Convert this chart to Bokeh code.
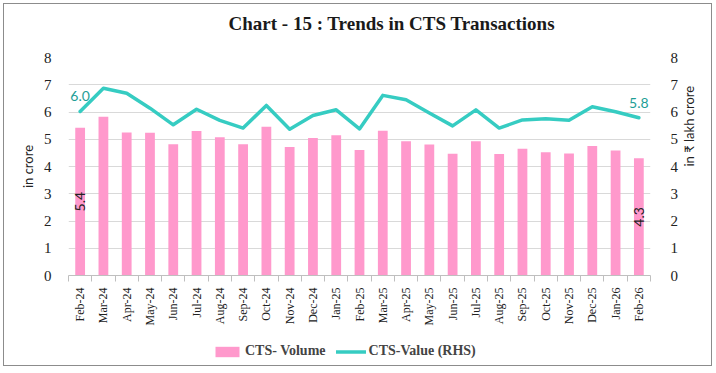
import math
from bokeh.plotting import figure
from bokeh.layouts import column
from bokeh.models import (Range1d, LinearAxis, FixedTicker, Legend, LegendItem,
                          ColumnDataSource)
from bokeh.core.properties import value as V
from bokeh.embed import file_html
from bokeh.resources import INLINE

months = ["Feb-24", "Mar-24", "Apr-24", "May-24", "Jun-24", "Jul-24", "Aug-24",
          "Sep-24", "Oct-24", "Nov-24", "Dec-24", "Jan-25", "Feb-25", "Mar-25",
          "Apr-25", "May-25", "Jun-25", "Jul-25", "Aug-25", "Sep-25", "Oct-25",
          "Nov-25", "Dec-25", "Jan-26", "Feb-26"]
cts_volume = [5.42, 5.83, 5.25, 5.24, 4.82, 5.30, 5.07, 4.82, 5.46, 4.72, 5.05,
              5.15, 4.61, 5.31, 4.93, 4.81, 4.47, 4.93, 4.46, 4.65, 4.52, 4.48,
              4.75, 4.59, 4.30]
cts_value = [6.02, 6.87, 6.69, 6.14, 5.53, 6.10, 5.69, 5.41, 6.24, 5.37, 5.87,
             6.08, 5.38, 6.61, 6.45, 5.96, 5.49, 6.08, 5.41, 5.71, 5.75, 5.70,
             6.19, 6.01, 5.79]
y_ticks = [0, 1, 2, 3, 4, 5, 6, 7, 8]

PINK = "#FF99CC"
TEAL = "#36CCC2"
TEAL_TXT = "#1E9E96"
SERIF = "Liberation Serif"
SANS = "Lato"
W = 707

# ---- title strip ----
p0 = figure(width=W, height=44, output_backend="svg", toolbar_location=None,
            x_range=Range1d(0, 1), y_range=Range1d(0, 1),
            x_axis_location=None, y_axis_location=None,
            min_border_left=64, min_border_right=61, min_border_top=0,
            min_border_bottom=0)
p0.outline_line_color = None
p0.grid.visible = False
p0.title.text = "Chart - 15 : Trends in CTS Transactions"
p0.title.align = "left"
p0.title.offset = 160
p0.title.standoff = 12
p0.title.text_font = SERIF
p0.title.text_font_style = "bold"
p0.title.text_font_size = "19px"
p0.title.text_color = "#1a1a1a"

# ---- main chart ----
xs = list(range(len(months)))
src = ColumnDataSource(dict(x=xs, volume=cts_volume, val=cts_value))

p = figure(width=W, height=280, output_backend="svg", toolbar_location=None,
           x_range=Range1d(-0.5, len(months) - 0.5), y_range=Range1d(0, 8),
           min_border_left=64, min_border_right=61, min_border_top=9,
           min_border_bottom=50)
p.extra_y_ranges = {"rhs": Range1d(0, 8)}
p.outline_line_color = None

bars = p.vbar(x="x", top="volume", width=0.42, source=src,
              fill_color=PINK, line_color=None)
line = p.line(x="x", y="val", source=src, y_range_name="rhs",
              line_width=3.5, line_color=TEAL, line_join="round", line_cap="round")

ends = [0, len(months) - 1]
vol_lab = ColumnDataSource(dict(x=[xs[i] for i in ends],
                                y=[cts_volume[i] / 2 for i in ends],
                                t=["%.1f" % cts_volume[i] for i in ends]))
p.text(x="x", y="y", text="t", source=vol_lab, angle=math.pi / 2,
       text_align="center", text_baseline="middle", text_font=V(SANS),
       text_font_size="14px", text_color="#222222")
val_lab = ColumnDataSource(dict(x=[xs[i] for i in ends],
                                y=[cts_value[i] for i in ends],
                                t=["%.1f" % cts_value[i] for i in ends]))
p.text(x="x", y="y", text="t", source=val_lab, y_range_name="rhs",
       y_offset=-10, text_align="center", text_baseline="bottom",
       text_font=V(SANS), text_font_size="14px", text_color=TEAL_TXT)

p.xgrid.visible = False
p.ygrid.ticker = FixedTicker(ticks=y_ticks)
p.ygrid.grid_line_color = "#d9d9d9"

p.yaxis[0].ticker = FixedTicker(ticks=y_ticks)
p.yaxis[0].axis_label = "in crore"
rax = LinearAxis(y_range_name="rhs", ticker=FixedTicker(ticks=y_ticks),
                 axis_label="in \u20b9 lakh crore")
p.add_layout(rax, "right")
for ax in [p.yaxis[0], rax]:
    ax.axis_line_color = None
    ax.major_tick_line_color = None
    ax.minor_tick_line_color = None
    ax.major_label_text_font = SERIF
    ax.major_label_text_font_size = "15px"
    ax.major_label_text_color = "#222222"
    ax.axis_label_text_font = SANS
    ax.axis_label_text_font_style = "normal"
    ax.axis_label_text_font_size = "13px"
    ax.axis_label_text_color = "#222222"
p.yaxis[0].major_label_standoff = 11
p.yaxis[0].axis_label_standoff = 5
rax.major_label_standoff = 14
rax.axis_label_standoff = 8
rax.axis_label_orientation = math.pi / 2

xa = p.xaxis[0]
xa.ticker = FixedTicker(ticks=xs, minor_ticks=[i - 0.5 for i in range(len(months) + 1)])
xa.major_label_overrides = {i: m for i, m in enumerate(months)}
xa.major_label_orientation = math.pi / 2
xa.major_tick_line_color = None
xa.minor_tick_in = 0
xa.minor_tick_out = 6
xa.minor_tick_line_color = "#bfbfbf"
xa.axis_line_color = "#bfbfbf"
xa.major_label_text_font = SERIF
xa.major_label_text_font_size = "12px"
xa.major_label_text_color = "#222222"
xa.major_label_standoff = 6

# ---- legend strip (hidden legend proxies that share the chart's data) ----
p2 = figure(width=W, height=37, output_backend="svg", toolbar_location=None,
            x_range=Range1d(-0.5, len(months) - 0.5), y_range=Range1d(-20, -10),
            x_axis_location=None, y_axis_location=None,
            min_border_left=64, min_border_right=61, min_border_top=0,
            min_border_bottom=0)
p2.outline_line_color = None
p2.grid.visible = False
lg_bar = p2.vbar(x="x", top="volume", width=0.42, source=src,
                 fill_color=PINK, line_color=None)
lg_line = p2.line(x="x", y="val", source=src, line_width=3.5,
                  line_color=TEAL, line_cap="round")
lg_bar.visible = False
lg_line.visible = False
legend = Legend(items=[LegendItem(label="CTS- Volume", renderers=[lg_bar]),
                       LegendItem(label="CTS-Value (RHS)", renderers=[lg_line])],
                orientation="horizontal", location=(144, 6),
                label_text_font=SERIF, label_text_font_style="bold",
                label_text_font_size="14px", glyph_width=30, glyph_height=13,
                spacing=10, padding=0, margin=0, label_standoff=3,
                click_policy="none", inactive_fill_alpha=0,
                background_fill_alpha=0, border_line_color=None)
p2.add_layout(legend)

layout = column(p0, p, p2, spacing=0,
                styles={"border": "1px solid #8c8c8c", "margin": "3px 0 0 3px"})

open("out.html", "w").write(file_html(layout, INLINE))
